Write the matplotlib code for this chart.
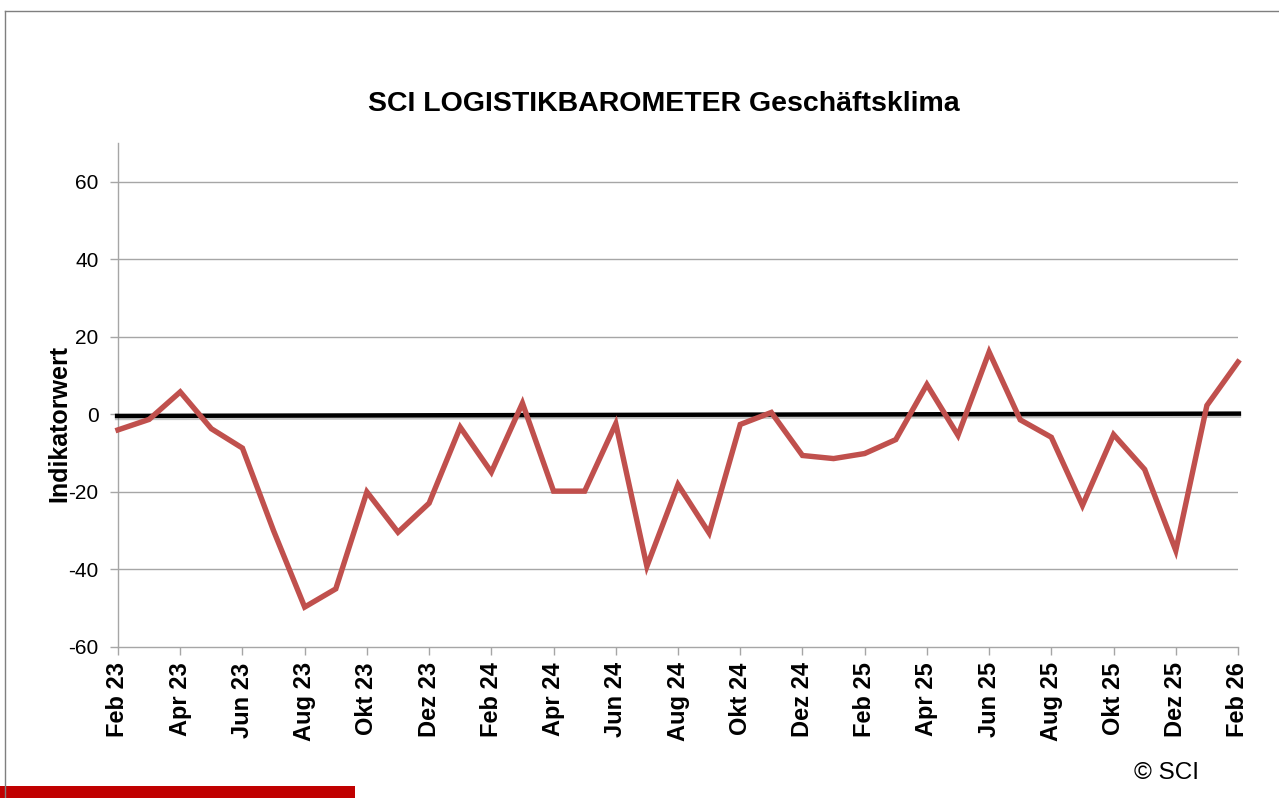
import matplotlib
matplotlib.use("Agg")
import matplotlib.pyplot as plt
from matplotlib.lines import Line2D
import matplotlib.patheffects as pe

plt.rcParams['font.family'] = ['Liberation Sans', 'DejaVu Sans']
plt.rcParams['axes.unicode_minus'] = False

months = ["Feb 23", "Mrz 23", "Apr 23", "Mai 23", "Jun 23", "Jul 23", "Aug 23", "Sep 23",
          "Okt 23", "Nov 23", "Dez 23", "Jan 24", "Feb 24", "Mrz 24", "Apr 24", "Mai 24",
          "Jun 24", "Jul 24", "Aug 24", "Sep 24", "Okt 24", "Nov 24", "Dez 24", "Jan 25",
          "Feb 25", "Mrz 25", "Apr 25", "Mai 25", "Jun 25", "Jul 25", "Aug 25", "Sep 25",
          "Okt 25", "Nov 25", "Dez 25", "Jan 26", "Feb 26"]
values = [-4.0, -1.3, 5.8, -3.7, -8.7, -30.0, -49.7, -45.0,
          -20.0, -30.4, -22.9, -3.3, -14.9, 2.9, -19.8, -19.8,
          -2.4, -39.2, -18.1, -30.6, -2.6, 0.5, -10.6, -11.4,
          -10.1, -6.5, 7.7, -5.4, 16.1, -1.4, -5.9, -23.5,
          -5.2, -14.2, -35.1, 2.3, 13.5]
zero_line = [-0.4, 0.2]
yticks = [-60, -40, -20, 0, 20, 40, 60]

W, H = 1279, 798
fig = plt.figure(figsize=(W / 100, H / 100), dpi=100)
ax = fig.add_axes([118 / W, (H - 647) / H, (1238 - 118) / W, (647 - 143) / H])

x = list(range(len(months)))
ax.set_xlim(0, len(months) - 1)
ax.set_ylim(-60, 70)

for yv in yticks:
    if yv not in (0, -60):
        ax.axhline(yv, color='#a6a6a6', lw=1.0, zorder=1)

# zero / trend line with a soft shadow
ax.plot([-0.1, len(months) - 1 + 0.1], zero_line, color='black', lw=3.2,
        solid_capstyle='butt', zorder=3, clip_on=False,
        path_effects=[pe.SimpleLineShadow(offset=(0, -1.5), shadow_color='#808080', alpha=0.45, rho=1),
                      pe.Normal()])

ax.plot(x, values, color='#C0504D', lw=3.9, solid_joinstyle='miter', zorder=4, clip_on=False)

ax.set_yticks(yticks)
ax.set_yticklabels([str(v) for v in yticks], fontsize=15)
ax.set_xticks(x[::2])
ax.set_xticklabels(months[::2], rotation=90, fontsize=17, fontweight='bold')
ax.tick_params(axis='both', direction='out', length=6, color='#a6a6a6', width=1)
ax.tick_params(axis='y', pad=8)
ax.tick_params(axis='x', pad=5)

for s in ['top', 'right']:
    ax.spines[s].set_visible(False)
for s in ['left', 'bottom']:
    ax.spines[s].set_color('#a6a6a6')
    ax.spines[s].set_linewidth(1.0)

fig.text(59 / W, 1 - 424 / H, "Indikatorwert", rotation=90, fontsize=18,
         fontweight='bold', ha='center', va='center')
fig.text(664 / W, 1 - 104 / H, "SCI LOGISTIKBAROMETER Geschäftsklima", fontsize=20.5,
         fontweight='bold', ha='center', va='center')
fig.text(1167 / W, 1 - 773 / H, "© SCI", fontsize=17.5, ha='center', va='center')

# outer frame lines and red bar
fig.add_artist(Line2D([5 / W, 1], [1 - 11 / H, 1 - 11 / H], color='#7f7f7f', lw=1.0))
fig.add_artist(Line2D([5 / W, 5 / W], [0, 1 - 11 / H], color='#7f7f7f', lw=1.0))
fig.add_artist(plt.Rectangle((0, 0), 355 / W, 12 / H, color='#C00000', lw=0))

fig.savefig("out.png", dpi=100)
